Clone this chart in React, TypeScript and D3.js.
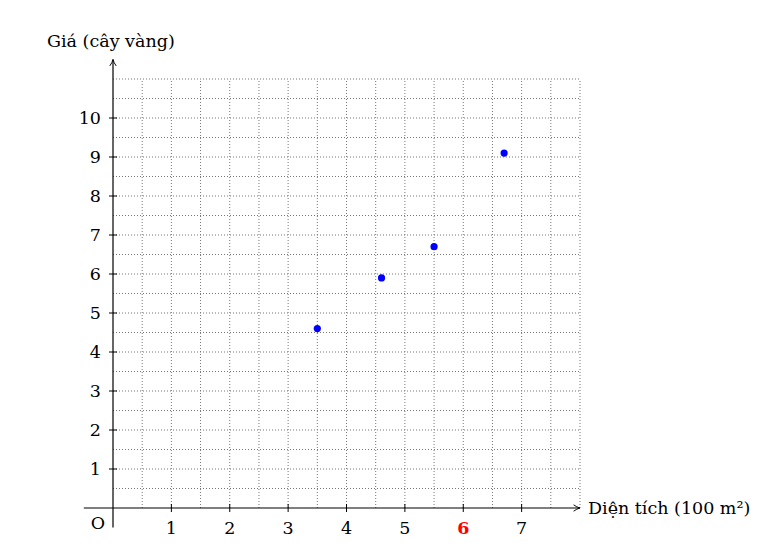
import React from "react";
import * as d3 from "d3";

const areaX: number[] = [3.5, 4.6, 5.5, 6.7];
const priceY: number[] = [4.6, 5.9, 6.7, 9.1];
const xTicks: number[] = [1, 2, 3, 4, 5, 6, 7];
const yTicks: number[] = [1, 2, 3, 4, 5, 6, 7, 8, 9, 10];
const highlightX = 6;
const xLabel = "Diện tích (100 m²)";
const yLabel = "Giá (cây vàng)";

const W = 768;
const H = 550;

export default function App() {
  const x = d3.scaleLinear().domain([0, 8]).range([113, 580]);
  const y = d3.scaleLinear().domain([0, 11]).range([508, 79]);
  const gridX = d3.range(0.5, 8.01, 0.5);
  const gridY = d3.range(0.5, 11.01, 0.5);
  const font = "'DejaVu Serif', 'Liberation Serif', serif";
  const gridColor = "#777";
  const fs = 17.5;
  return (
    <svg
      width={W}
      height={H}
      style={{ position: "absolute", left: 0, top: 0, background: "#fff" }}
      fontFamily={font}
    >
      <defs>
        <marker id="arr" viewBox="0 0 10 10" refX="9" refY="5" markerWidth="8" markerHeight="8" orient="auto" markerUnits="userSpaceOnUse">
          <path d="M1,1 Q5,4 9,5 Q5,6 1,9" fill="none" stroke="#000" strokeWidth="1.2" />
        </marker>
      </defs>
      {gridX.map((v) => (
        <line key={"gx" + v} x1={x(v)} x2={x(v)} y1={y(0)} y2={y(11)} stroke={gridColor} strokeWidth={1} strokeDasharray="1 2" />
      ))}
      {gridY.map((v) => (
        <line key={"gy" + v} x1={x(0)} x2={x(8)} y1={y(v)} y2={y(v)} stroke={gridColor} strokeWidth={1} strokeDasharray="1 2" />
      ))}
      <line x1={x(-0.5)} x2={x(8)} y1={y(0)} y2={y(0)} stroke="#000" strokeWidth={1.2} markerEnd="url(#arr)" />
      <line x1={x(0)} x2={x(0)} y1={y(-0.5)} y2={y(11.5)} stroke="#000" strokeWidth={1.2} markerEnd="url(#arr)" />
      {xTicks.map((v) => (
        <g key={"xt" + v}>
          <line x1={x(v)} x2={x(v)} y1={y(0) - 4} y2={y(0) + 4} stroke="#000" strokeWidth={1} />
          <text
            x={x(v)}
            y={y(0) + 26}
            textAnchor="middle"
            fontSize={fs}
            fill={v === highlightX ? "#ff0000" : "#000"}
            fontWeight={v === highlightX ? "bold" : "normal"}
          >
            {v}
          </text>
        </g>
      ))}
      {yTicks.map((v) => (
        <g key={"yt" + v}>
          <line x1={x(0) - 4} x2={x(0) + 4} y1={y(v)} y2={y(v)} stroke="#000" strokeWidth={1} />
          <text x={x(0) - 12} y={y(v) + 6.3} textAnchor="end" fontSize={fs} fill="#000">
            {v}
          </text>
        </g>
      ))}
      <text x={x(0) - 8} y={y(0) + 21} textAnchor="end" fontSize={fs}>O</text>
      <text x={588} y={y(0) + 6.3} fontSize={fs}>{xLabel}</text>
      <text x={47} y={47} fontSize={fs}>{yLabel}</text>
      {areaX.map((v, i) => (
        <circle key={"p" + i} cx={x(v)} cy={y(priceY[i])} r={3.6} fill="#0000ff" />
      ))}
    </svg>
  );
}
